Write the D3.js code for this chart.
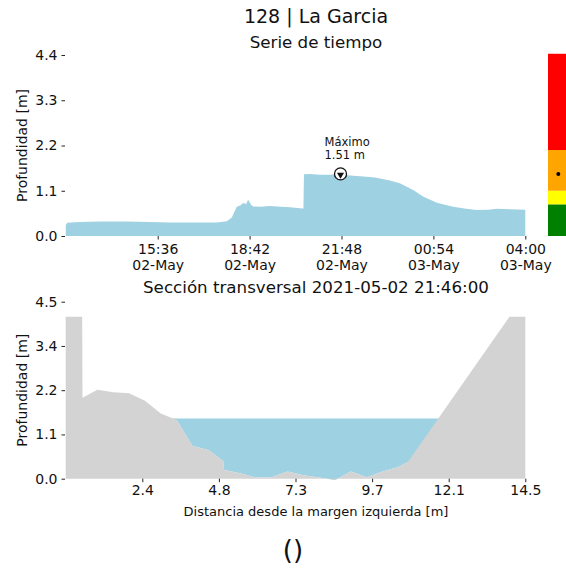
<!DOCTYPE html>
<html>
<head>
<meta charset="utf-8">
<script src="https://cdn.jsdelivr.net/npm/d3@7"></script>
<style>
body { margin: 0; background: #fff; }
text { font-family: "DejaVu Sans", sans-serif; fill: #111; }
</style>
</head>
<body>
<script>
const width = 566;
const height = 571;

// serie de tiempo
const times = [
  '2021-05-02 12:30', '2021-05-02 12:33', '2021-05-02 13:00', '2021-05-02 13:40',
  '2021-05-02 14:30', '2021-05-02 15:20', '2021-05-02 16:00', '2021-05-02 16:40',
  '2021-05-02 17:36', '2021-05-02 17:56', '2021-05-02 18:06', '2021-05-02 18:16',
  '2021-05-02 18:23', '2021-05-02 18:29', '2021-05-02 18:35', '2021-05-02 18:39',
  '2021-05-02 18:45', '2021-05-02 18:49', '2021-05-02 19:05', '2021-05-02 19:23',
  '2021-05-02 19:45', '2021-05-02 20:04', '2021-05-02 20:29', '2021-05-02 20:31',
  '2021-05-02 20:32', '2021-05-02 20:45', '2021-05-02 21:05', '2021-05-02 21:25',
  '2021-05-02 21:46', '2021-05-02 22:05', '2021-05-02 22:26', '2021-05-02 22:56',
  '2021-05-02 23:26', '2021-05-02 23:46', '2021-05-03 00:13', '2021-05-03 00:33',
  '2021-05-03 01:01', '2021-05-03 01:34', '2021-05-03 02:00', '2021-05-03 02:22',
  '2021-05-03 02:45', '2021-05-03 03:03', '2021-05-03 03:29', '2021-05-03 04:00'
];
const depths = [
  0.27, 0.32, 0.34, 0.35,
  0.35, 0.34, 0.33, 0.33,
  0.33, 0.36, 0.45, 0.71,
  0.74, 0.80, 0.78, 0.88,
  0.76, 0.72, 0.71, 0.73,
  0.71, 0.70, 0.67, 0.67,
  1.50, 1.51, 1.49, 1.49,
  1.51, 1.47, 1.45, 1.42,
  1.35, 1.28, 1.12, 0.96,
  0.81, 0.71, 0.66, 0.63,
  0.64, 0.66, 0.65, 0.64
];
const timeDomain = ['2021-05-02 12:30', '2021-05-03 04:00'];
const timeTicks = ['2021-05-02 15:36', '2021-05-02 18:42', '2021-05-02 21:48', '2021-05-03 00:54', '2021-05-03 04:00'];
const depthTicks = [0, 1.1, 2.2, 3.3, 4.4];

const maxTime = '2021-05-02 21:46';
const maxDepth = 1.51;

// semaforo de niveles
const levelColors = ['#008000', '#ffff00', '#ffa500', '#ff0000'];
const levelBreaks = [0, 0.77, 1.1, 2.09, 4.43];

// sección transversal
const stations = [0, 0.52, 0.53, 1.0, 1.5, 2.0, 2.5, 3.0, 3.5, 4.0, 4.5, 4.97, 5.0, 5.5, 6.0,
  6.5, 7.0, 7.5, 8.0, 8.5, 9.0, 9.5, 10.0, 10.5, 10.8, 14.0, 14.5];
const bedDepths = [4.12, 4.12, 2.06, 2.26, 2.20, 2.17, 1.98, 1.66, 1.49, 0.83, 0.73, 0.45, 0.22, 0.14, 0.03,
  0.04, 0.18, 0.09, 0.03, -0.03, 0.18, 0.04, 0.18, 0.30, 0.43, 4.12, 4.12];
const waterLevel = 1.53;
const distTicks = [2.4167, 4.8333, 7.25, 9.6667, 12.0833, 14.5];
const distLabels = ['2.4', '4.8', '7.3', '9.7', '12.1', '14.5'];
const secTicks = [0, 1.125, 2.25, 3.375, 4.5];
const secLabels = ['0.0', '1.1', '2.2', '3.4', '4.5'];

const parse = d3.timeParse('%Y-%m-%d %H:%M');
const series = times.map((t, i) => ({ t: parse(t), v: depths[i] }));
const section = stations.map((s, i) => ({ d: s, v: bedDepths[i] }));

const svg = d3.select('body').append('svg')
  .attr('width', width)
  .attr('height', height);

const blue = '#9ed1e1';
const grey = '#d3d3d3';

// ---- serie de tiempo
const x = d3.scaleTime().domain(timeDomain.map(parse)).range([65.8, 525.3]);
const y = d3.scaleLinear().domain([0, 4.4]).range([236, 55]);

svg.append('path')
  .datum(series)
  .attr('fill', blue)
  .attr('d', d3.area().x(d => x(d.t)).y0(y(0)).y1(d => y(d.v)));

const xAxis = svg.append('g')
  .attr('transform', `translate(0,${y(0)})`)
  .call(d3.axisBottom(x).tickValues(timeTicks.map(parse)).tickSize(3.5).tickFormat(''));
xAxis.select('.domain').remove();
xAxis.selectAll('.tick line').attr('stroke', '#222');
xAxis.selectAll('.tick').each(function (d) {
  const t = d3.select(this).append('text')
    .attr('text-anchor', 'middle')
    .style('font-size', '14px');
  t.append('tspan').attr('x', 0).attr('y', 17.5).text(d3.timeFormat('%H:%M')(d));
  t.append('tspan').attr('x', 0).attr('y', 33.5).text(d3.timeFormat('%d-%b')(d));
});

const yAxis = svg.append('g')
  .attr('transform', 'translate(65,0)')
  .call(d3.axisLeft(y).tickValues(depthTicks).tickSize(3.5).tickPadding(4).tickFormat(d3.format('.1f')));
yAxis.select('.domain').remove();
yAxis.selectAll('.tick line').attr('stroke', '#222');
yAxis.selectAll('.tick text').style('font-size', '14px').attr('fill', '#111');

svg.append('text')
  .attr('transform', `translate(27,${(y(0) + y(4.4)) / 2}) rotate(-90)`)
  .attr('text-anchor', 'middle')
  .style('font-size', '14px')
  .text('Profundidad [m]');

// marcador del maximo
const mx = x(parse(maxTime));
const my = y(maxDepth);
svg.append('circle')
  .attr('cx', mx).attr('cy', my).attr('r', 6)
  .attr('fill', '#fff').attr('stroke', '#111').attr('stroke-width', 1.3);
svg.append('path')
  .attr('transform', `translate(${mx},${my + 0.8}) rotate(180)`)
  .attr('d', d3.symbol(d3.symbolTriangle, 22))
  .attr('fill', '#111');
svg.append('text').attr('x', mx - 16).attr('y', my - 28).style('font-size', '11.5px').text('Máximo');
svg.append('text').attr('x', mx - 16).attr('y', my - 15).style('font-size', '11.5px').text(`${maxDepth} m`);

// barra de colores
svg.append('g').selectAll('rect')
  .data(levelColors)
  .enter().append('rect')
    .attr('x', 548)
    .attr('width', 24)
    .attr('y', (c, i) => y(levelBreaks[i + 1]))
    .attr('height', (c, i) => y(levelBreaks[i]) - y(levelBreaks[i + 1]))
    .attr('fill', c => c);
svg.append('circle').attr('cx', 558.3).attr('cy', y(maxDepth)).attr('r', 2).attr('fill', '#000');

// titulos
svg.append('text').attr('x', 316).attr('y', 22.5).attr('text-anchor', 'middle')
  .style('font-size', '19px').text('128 | La Garcia');
svg.append('text').attr('x', 316).attr('y', 48).attr('text-anchor', 'middle')
  .style('font-size', '16.7px').text('Serie de tiempo');

// ---- sección transversal
const sx = d3.scaleLinear().domain([0, 14.5]).range([65.7, 525.3]);
const sy = d3.scaleLinear().domain([0, 4.5]).range([478.7, 301.7]);

svg.append('path')
  .datum(section)
  .attr('fill', blue)
  .attr('d', d3.area().x(d => sx(d.d)).y0(d => sy(Math.min(d.v, waterLevel))).y1(sy(waterLevel)));

svg.append('path')
  .datum(section)
  .attr('fill', grey)
  .attr('d', d3.area().x(d => sx(d.d)).y0(sy(0)).y1(d => sy(d.v)));

const sxAxis = svg.append('g')
  .attr('transform', `translate(0,${sy(0)})`)
  .call(d3.axisBottom(sx).tickValues(distTicks).tickSize(3.5).tickPadding(3)
    .tickFormat((d, i) => distLabels[i]));
sxAxis.select('.domain').remove();
sxAxis.selectAll('.tick line').attr('stroke', '#222');
sxAxis.selectAll('.tick text').style('font-size', '14px').attr('fill', '#111');

const syAxis = svg.append('g')
  .attr('transform', 'translate(65,0)')
  .call(d3.axisLeft(sy).tickValues(secTicks).tickSize(3.5).tickPadding(4)
    .tickFormat((d, i) => secLabels[i]));
syAxis.select('.domain').remove();
syAxis.selectAll('.tick line').attr('stroke', '#222');
syAxis.selectAll('.tick text').style('font-size', '14px').attr('fill', '#111');

svg.append('text')
  .attr('transform', `translate(27,${(sy(0) + sy(4.5)) / 2}) rotate(-90)`)
  .attr('text-anchor', 'middle')
  .style('font-size', '14px')
  .text('Profundidad [m]');

svg.append('text').attr('x', 316).attr('y', 293).attr('text-anchor', 'middle')
  .style('font-size', '16.7px').text('Sección transversal 2021-05-02 21:46:00');

svg.append('text').attr('x', 316).attr('y', 516).attr('text-anchor', 'middle')
  .style('font-size', '13px').text('Distancia desde la margen izquierda [m]');

svg.append('text').attr('x', 293).attr('y', 559).attr('text-anchor', 'middle')
  .style('font-size', '26px').text('()');
</script>
</body>
</html>
